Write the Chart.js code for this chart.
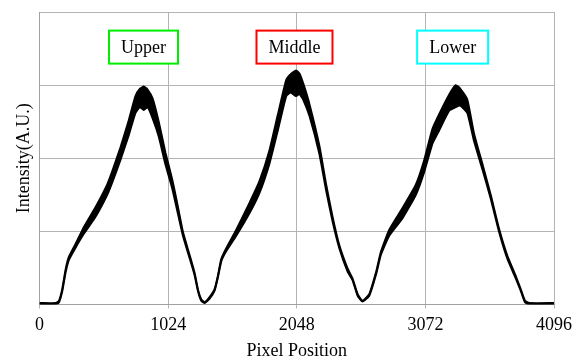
<!DOCTYPE html>
<html>
<head>
<meta charset="utf-8">
<script src="https://cdn.jsdelivr.net/npm/chart.js@4/dist/chart.umd.min.js"></script>
<style>
  html, body { margin: 0; padding: 0; background: #fff; }
  #wrap { width: 578px; height: 360px; }
</style>
</head>
<body>
<div id="wrap"><canvas id="chart" width="578" height="360"></canvas></div>
<script>
// pixel positions along the sensor
const pixelPos = [0, 130, 155, 181, 208, 234, 288, 354, 446, 539, 579, 645, 711, 764, 800, 830, 860, 900,
  949, 1002, 1055, 1092, 1142, 1196, 1235, 1262, 1288, 1315, 1354, 1394, 1420, 1447, 1487, 1566, 1672,
  1752, 1831, 1897, 1964, 2000, 2043, 2069, 2100, 2149, 2228, 2281, 2334, 2387, 2453, 2493, 2533, 2572,
  2625, 2679, 2718, 2784, 2890, 2996, 3062, 3128, 3181, 3261, 3314, 3350, 3406, 3459, 3526, 3592, 3658,
  3724, 3791, 3831, 3865, 3900, 4096];
// top and bottom edge of the noisy intensity trace
const intensityHigh = [0.02, 0.02, 0.05, 0.21, 0.48, 0.65, 0.83, 1.06, 1.33, 1.64, 1.82, 2.15, 2.52, 2.85, 2.95, 2.98, 2.94, 2.82,
  2.50, 2.08, 1.72, 1.42, 0.99, 0.67, 0.43, 0.20, 0.07, 0.03, 0.10, 0.21, 0.39, 0.62, 0.77, 1.02, 1.39,
  1.69, 2.11, 2.59, 3.07, 3.15, 3.20, 3.16, 3.02, 2.74, 2.17, 1.65, 1.19, 0.81, 0.49, 0.35, 0.14, 0.05,
  0.14, 0.44, 0.72, 1.02, 1.32, 1.64, 1.97, 2.40, 2.60, 2.87, 3.00, 2.95, 2.80, 2.34, 1.92, 1.50, 1.04,
  0.67, 0.39, 0.21, 0.05, 0.02, 0.02];
const intensityLow = [0.00, 0.00, 0.03, 0.18, 0.44, 0.61, 0.78, 0.97, 1.20, 1.50, 1.67, 1.98, 2.32, 2.62, 2.70, 2.66, 2.70, 2.55,
  2.30, 1.92, 1.60, 1.32, 0.94, 0.63, 0.40, 0.18, 0.05, 0.02, 0.08, 0.19, 0.37, 0.59, 0.73, 0.94, 1.25,
  1.53, 1.93, 2.38, 2.85, 2.90, 2.85, 2.88, 2.80, 2.58, 2.06, 1.57, 1.13, 0.77, 0.45, 0.33, 0.12, 0.04,
  0.12, 0.41, 0.68, 0.94, 1.18, 1.50, 1.81, 2.20, 2.38, 2.65, 2.70, 2.72, 2.62, 2.24, 1.85, 1.45, 1.00,
  0.63, 0.36, 0.19, 0.03, 0.00, 0.00];

const xTicks = [0, 1024, 2048, 3072, 4096];

const boxNames = ["Upper", "Middle", "Lower"];
const boxX = [828, 2030, 3289];
const boxY = 3.52;
const boxColors = ["#00ee00", "#ff0000", "#00ffff"];

const serif = "'Liberation Serif', 'Times New Roman', serif";

function toPoints(ys) {
  return pixelPos.map((x, i) => ({ x: x, y: ys[i] }));
}

const boxLabels = {
  id: "boxLabels",
  afterDatasetsDraw(chart) {
    const ctx = chart.ctx;
    const xs = chart.scales.x, ys = chart.scales.y;
    ctx.save();
    ctx.font = "18px " + serif;
    ctx.textAlign = "center";
    ctx.textBaseline = "middle";
    boxNames.forEach((name, i) => {
      const cx = xs.getPixelForValue(boxX[i]);
      const cy = ys.getPixelForValue(boxY);
      const w = ctx.measureText(name).width + 24;
      const h = 33;
      ctx.fillStyle = "#fff";
      ctx.fillRect(cx - w / 2, cy - h / 2, w, h);
      ctx.strokeStyle = boxColors[i];
      ctx.lineWidth = 2;
      ctx.strokeRect(cx - w / 2, cy - h / 2, w, h);
      ctx.fillStyle = "#000";
      ctx.fillText(name, cx, cy + 1);
    });
    ctx.restore();
  }
};

new Chart(document.getElementById("chart"), {
  type: "line",
  data: {
    datasets: [{
      data: toPoints(intensityHigh),
      borderColor: "#000",
      backgroundColor: "#000",
      borderWidth: 2,
      pointRadius: 0,
      fill: "+1",
      tension: 0.15
    }, {
      data: toPoints(intensityLow),
      borderColor: "#000",
      borderWidth: 2,
      pointRadius: 0,
      fill: false,
      tension: 0.15
    }]
  },
  options: {
    responsive: false,
    animation: false,
    layout: { padding: { top: 12, right: 23, left: 0, bottom: 0 } },
    plugins: { legend: { display: false }, tooltip: { enabled: false } },
    scales: {
      x: {
        type: "linear",
        min: 0,
        max: 4096,
        afterBuildTicks: s => { s.ticks = xTicks.map(v => ({ value: v })); },
        afterFit: s => { s.height = 55.5; },
        grid: { color: "#b4b4b4", tickLength: 4 },
        border: { color: "#a0a0a0" },
        ticks: {
          color: "#000",
          padding: 6,
          maxRotation: 0,
          font: { family: serif, size: 18 },
          callback: v => String(v)
        },
        title: {
          display: true,
          text: "Pixel Position",
          color: "#000",
          padding: 0,
          font: { family: serif, size: 18, lineHeight: 1 }
        }
      },
      y: {
        min: 0,
        max: 4,
        ticks: { display: false, stepSize: 1 },
        afterFit: s => { s.width = 39.5; },
        grid: { color: "#b4b4b4", drawTicks: false },
        border: { color: "#a0a0a0" },
        title: {
          display: true,
          text: "Intensity(A.U.)",
          color: "#000",
          padding: { top: 15, bottom: 0 },
          font: { family: serif, size: 18, lineHeight: 1 }
        }
      }
    }
  },
  plugins: [boxLabels]
});
</script>
</body>
</html>
